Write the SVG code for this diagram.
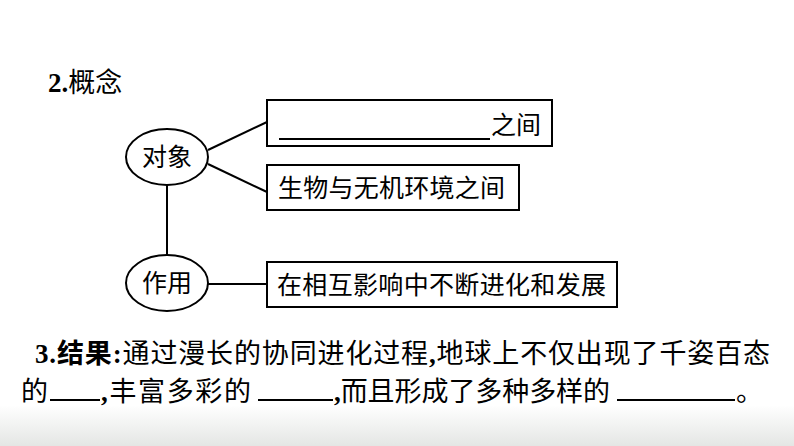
<svg xmlns="http://www.w3.org/2000/svg" width="794" height="446" viewBox="0 0 794 446">
<defs>
<style>
.t{font-family:"Liberation Serif","Noto Sans CJK SC",serif;font-size:27px;fill:#000}
.c{font-family:"Noto Sans CJK SC",sans-serif;font-size:25px;fill:#000}
.d{font-family:"Noto Sans CJK SC",sans-serif;font-size:27px;fill:#000}
.b{font-weight:bold}
.s{fill:#fff;stroke:#000;stroke-width:2}
.l{stroke:#000;stroke-width:2;fill:none}
</style>
<linearGradient id="g" x1="0" y1="0" x2="0" y2="1"><stop offset="0" stop-color="#fff"/><stop offset="1" stop-color="#e4e6e4"/></linearGradient>
</defs>
<rect width="794" height="446" fill="#fff"/>
<rect y="405" width="794" height="41" fill="url(#g)"/>
<text class="t" x="48" y="92"><tspan class="b">2.</tspan><tspan font-family="Noto Sans CJK SC" font-size="27">概念</tspan></text>
<g id="connectors" class="l">
<line x1="208" y1="150" x2="267" y2="122"/>
<line x1="208" y1="164" x2="267" y2="192"/>
<line x1="167" y1="185" x2="167" y2="255"/>
<line x1="208" y1="284" x2="267" y2="284"/>
</g>
<g id="n1"><ellipse class="s" cx="167" cy="157" rx="41" ry="28"/><text class="c" x="167" y="166" text-anchor="middle">对象</text></g>
<g id="n2"><ellipse class="s" cx="167" cy="283" rx="41" ry="28"/><text class="c" x="167" y="292" text-anchor="middle">作用</text></g>
<g id="b1"><rect class="s" x="267" y="100" width="285" height="46"/><line class="l" x1="279" y1="139" x2="490" y2="139"/><text class="c" x="491" y="134">之间</text></g>
<g id="b2"><rect class="s" x="267" y="165" width="252" height="45"/><text class="c" x="278" y="197" textLength="227">生物与无机环境之间</text></g>
<g id="b3"><rect class="s" x="267" y="262" width="350" height="45"/><text class="c" x="277" y="294" textLength="329">在相互影响中不断进化和发展</text></g>
<text class="d" x="35" y="363" textLength="735"><tspan class="b" font-family="Liberation Serif">3.</tspan><tspan font-weight="bold">结果</tspan><tspan class="b" font-family="Liberation Serif">:</tspan>通过漫长的协同进化过程<tspan font-family="Liberation Serif" font-weight="bold">,</tspan>地球上不仅出现了千姿百态</text>
<text class="d" x="21" y="401">的</text>
<line class="l" x1="50" y1="400" x2="100" y2="400"/>
<text class="d" x="101" y="401" textLength="150"><tspan font-family="Liberation Serif" font-weight="bold">,</tspan>丰富多彩的</text>
<line class="l" x1="258" y1="400" x2="333" y2="400"/>
<text class="d" x="334" y="401" textLength="276"><tspan font-family="Liberation Serif" font-weight="bold">,</tspan>而且形成了多种多样的</text>
<line class="l" x1="617" y1="400" x2="735" y2="400"/>
<text class="d" x="736" y="401">。</text>
</svg>
